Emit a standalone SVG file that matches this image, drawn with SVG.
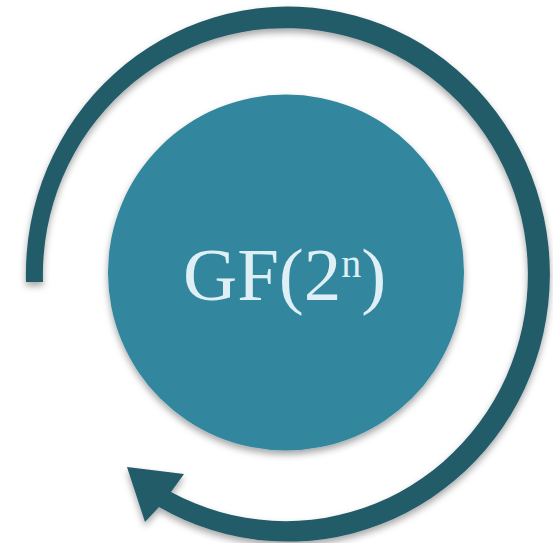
<svg xmlns="http://www.w3.org/2000/svg" width="553" height="543" viewBox="0 0 553 543">
  <defs>
    <filter id="shadow" x="-20%" y="-20%" width="140%" height="140%">
      <feDropShadow dx="0" dy="4" stdDeviation="3.5" flood-color="#000" flood-opacity="0.35"/>
    </filter>
    <style>
      .node-fill { fill: #31869E; filter: url(#shadow); }
      .arrow { fill: #215B69; filter: url(#shadow); }
      .label { font-family: "Liberation Serif", "Times New Roman", serif; fill: #DEEFF5; }
    </style>
  </defs>
  <rect width="553" height="543" fill="#ffffff"/>
  <g id="connectors">
    <path class="arrow" d="M 26 282 A 262 267.5 0 1 1 159 507 L 145 522 L 127 467 L 184 474 L 171 492 A 242.5 246.5 0 1 0 43 282 Z"/>
  </g>
  <g id="node-gf">
    <circle class="node-fill" cx="286" cy="272.5" r="178"/>
    <text class="label" x="183" y="300" font-size="75">GF(2<tspan font-size="40" dy="-23">n</tspan><tspan dy="23">)</tspan></text>
  </g>
</svg>
